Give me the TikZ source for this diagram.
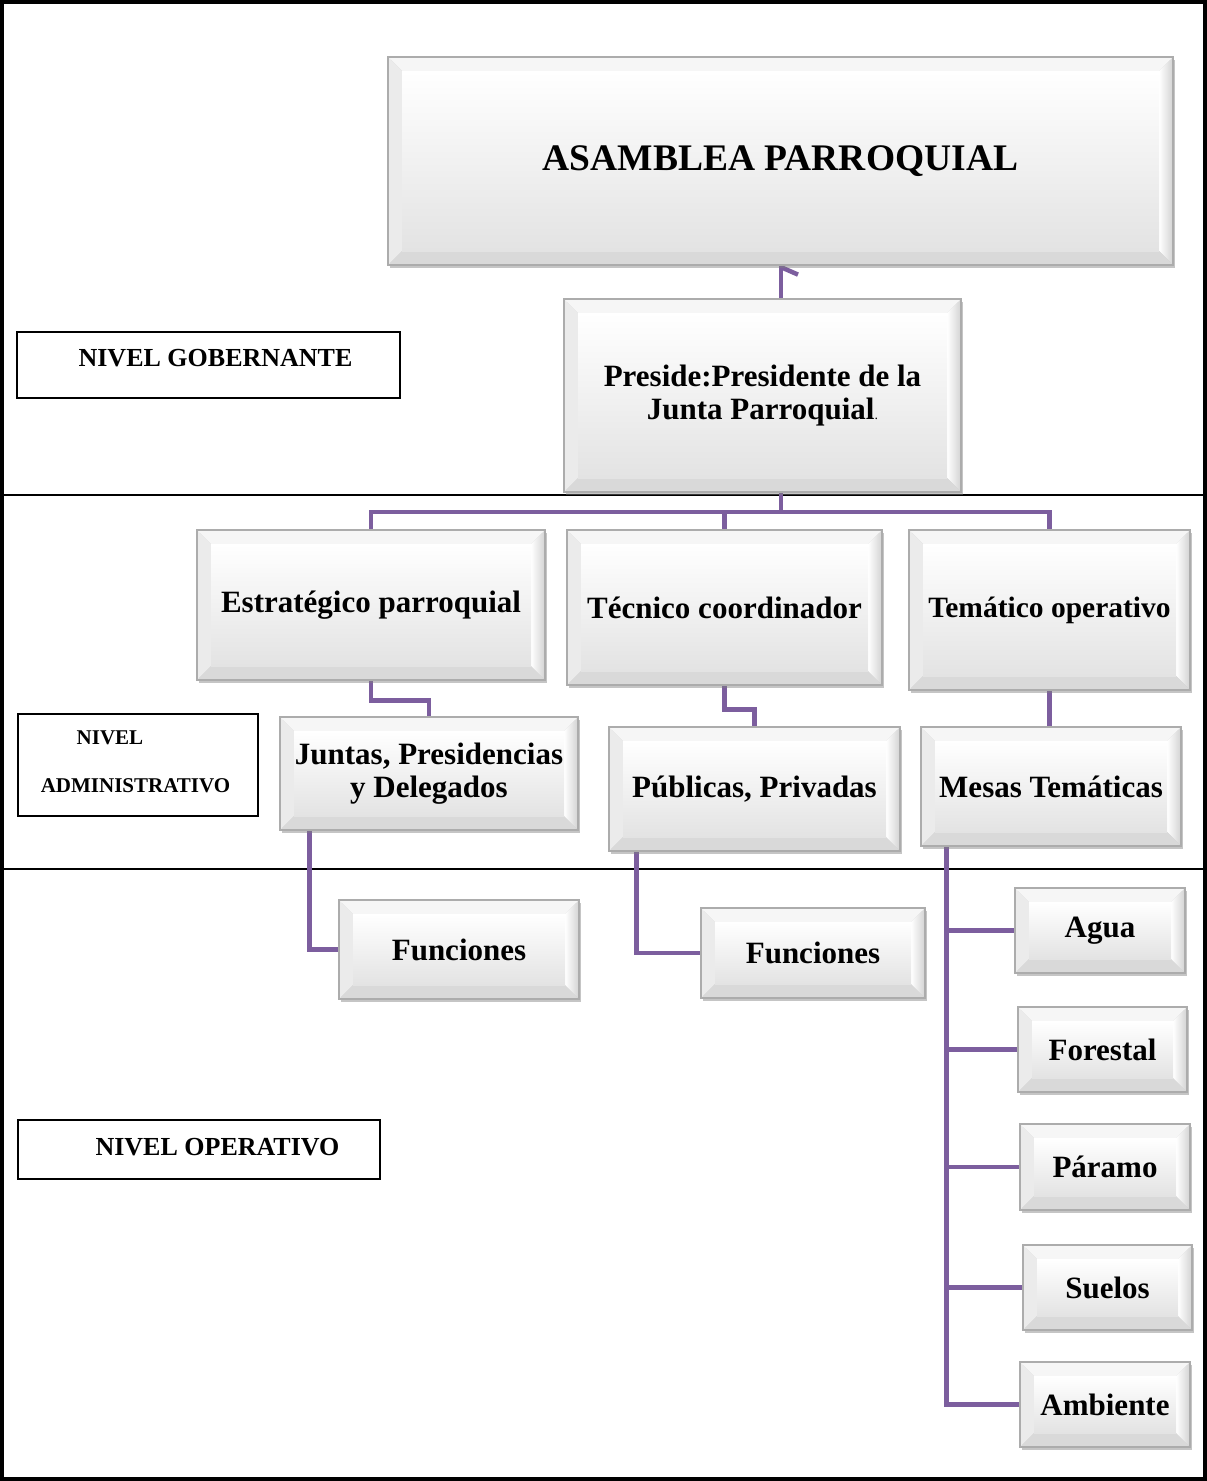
\documentclass[tikz,border=0pt]{standalone}
\usepackage{fontspec}
\setmainfont{Liberation Serif}
\usetikzlibrary{calc,shadows,fadings}
\definecolor{conncol}{RGB}{124,94,158}
\pgfdeclarelayer{bg}
\pgfsetlayers{bg,main}
\tikzset{
  bevel/.style={
    path picture={
      \path (path picture bounding box.north west) coordinate (bA)
            (path picture bounding box.north east) coordinate (bB)
            (path picture bounding box.south east) coordinate (bC)
            (path picture bounding box.south west) coordinate (bD);
      \path ($(bA)+(#1,-#1)$) coordinate (iA)
            ($(bB)+(-#1,-#1)$) coordinate (iB)
            ($(bC)+(-#1,#1)$) coordinate (iC)
            ($(bD)+(#1,#1)$) coordinate (iD);
      \fill[gray!7] (bA)--(bB)--(iB)--(iA)--cycle;
      \fill[gray!16] (bA)--(iA)--(iD)--(bD)--cycle;
      \shade[left color=white,right color=gray!35] (bB)--(bC)--(iC)--(iB)--cycle;
      \fill[gray!30] (bD)--(iD)--(iC)--(bC)--cycle;
      \shade[top color=white,bottom color=gray!22] (iA) rectangle (iC);
    }},
  bev/.style={draw=gray!65, line width=1.2pt, bevel=14pt,
    drop shadow={opacity=0.45, shadow xshift=2pt, shadow yshift=-3pt},
    align=center, inner sep=0pt,
    font=\fontsize{31}{33}\selectfont\bfseries},
  conn/.style={draw=conncol, line width=4.5pt},
  sepline/.style={draw=black, line width=2pt},
  lvlbox/.style={draw=black, line width=2pt, inner sep=0pt},
  lvltext/.style={inner sep=0pt, font=\bfseries}
}
\begin{document}
\begin{tikzpicture}[x=1pt,y=-1pt]
\useasboundingbox (0,0) rectangle (1207,1481);

% boxes
\node[bev, minimum width=785pt, minimum height=208pt, font=\fontsize{37.5}{40}\selectfont\bfseries] (asam) at (780.5,161) {ASAMBLEA PARROQUIAL};
\node[bev, minimum width=397pt, minimum height=193pt] (pres) at (762.5,395.5) {Preside:Presidente de la\\Junta Parroquial{\fontsize{14}{14}\selectfont\mdseries.}};
\node[bev, minimum width=348pt, minimum height=150pt] (estr) at (371,605) {Estratégico parroquial};
\node[bev, minimum width=315pt, minimum height=155pt] (tec) at (724.5,607.5) {Técnico coordinador};
\node[bev, minimum width=281pt, minimum height=160pt, font=\fontsize{29.5}{33}\selectfont\bfseries] (tema) at (1049.5,610) {Temático operativo};
\node[bev, minimum width=298pt, minimum height=113pt] (junt) at (429,773.5) {Juntas, Presidencias\\y Delegados};
\node[bev, minimum width=291pt, minimum height=124pt] (pub) at (754.5,789) {Públicas, Privadas};
\node[bev, minimum width=260pt, minimum height=119pt] (mesa) at (1051,786.5) {Mesas Temáticas};
\node[bev, minimum width=240pt, minimum height=99pt] (fun1) at (459,949.5) {Funciones};
\node[bev, minimum width=224pt, minimum height=90pt] (fun2) at (813,953) {Funciones};
\node[bev, minimum width=170pt, minimum height=85pt] (agua) at (1100,930.5) {Agua};
\node[bev, minimum width=169pt, minimum height=85pt] (fore) at (1102.5,1049.5) {Forestal};
\node[bev, minimum width=170pt, minimum height=86pt] (para) at (1105,1167) {Páramo};
\node[bev, minimum width=169pt, minimum height=85pt] (suel) at (1107.5,1287.5) {Suelos};
\node[bev, minimum width=170pt, minimum height=85pt] (ambi) at (1105,1404.5) {Ambiente};

% level boxes
\node[lvlbox, minimum width=383pt, minimum height=66pt] (lg) at (208.5,365) {};
\node[lvltext, font=\fontsize{26}{28}\selectfont\bfseries] (lgt) at (215.5,358) {NIVEL GOBERNANTE};
\node[lvlbox, minimum width=240pt, minimum height=102pt] (la) at (138,765) {};
\node[lvltext, font=\fontsize{21}{23}\selectfont\bfseries] (lat1) at (110,738) {NIVEL};
\node[lvltext, font=\fontsize{21}{23}\selectfont\bfseries] (lat2) at (135.5,786) {ADMINISTRATIVO};
\node[lvlbox, minimum width=362pt, minimum height=59pt] (lo) at (199,1149.5) {};
\node[lvltext, font=\fontsize{26}{28}\selectfont\bfseries] (lot) at (217.5,1147) {NIVEL OPERATIVO};

% connectors and separators behind
\begin{pgfonlayer}{bg}
\fill[white] (0,0) rectangle (1207,1481);
\draw[sepline] (0,495) -- (1207,495);
\draw[sepline] (0,869) -- (1207,869);
\coordinate (busC) at (781,512);
\draw[conn] (busC |- asam.south) -- (busC |- pres.north);
\draw[conn] ($(busC |- asam.south)+(1pt,-2pt)$) -- ++(16pt,-7pt);
\draw[conn] (busC |- pres.south) -- (busC);
\draw[conn] (estr.north) |- (busC) -| (tema.north);
\draw[conn] (tec.north) -- (tec.north |- busC);
\draw[conn] (estr.south) -- ++(0,20) -| (junt.north);
\draw[conn] (tec.south) -- ++(0,24) -| (pub.north);
\draw[conn] (tema.south) -- (tema.south |- mesa.north);
\draw[conn] ([xshift=30pt]junt.south west) |- (fun1.west);
\draw[conn] ([xshift=28pt]pub.south west) |- (fun2.west);
\coordinate (mt) at ([xshift=26pt]mesa.south west);
\draw[conn] (mt) |- (ambi.west);
\draw[conn] (mt |- agua.west) -- (agua.west);
\draw[conn] (mt |- fore.west) -- (fore.west);
\draw[conn] (mt |- para.west) -- (para.west);
\draw[conn] (mt |- suel.west) -- (suel.west);
\end{pgfonlayer}

% outer frame
\draw[line width=4pt] (2,2) rectangle (1205,1479);
\end{tikzpicture}
\end{document}
